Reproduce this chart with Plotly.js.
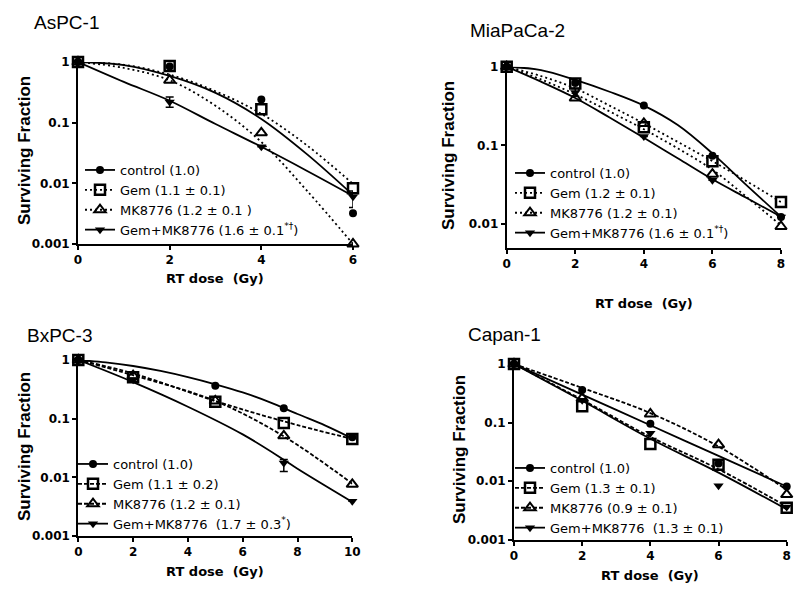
<!DOCTYPE html>
<html>
<head>
<meta charset="utf-8">
<script src="https://cdn.plot.ly/plotly-3.0.1.min.js"></script>
<style>html,body{margin:0;padding:0;background:#fff;}#chart{width:800px;height:595px;}</style>
</head>
<body>
<div id="chart"></div>
<script>
// ---------------- DATA ----------------
// Panel titles
const panelTitles = ['AsPC-1', 'MiaPaCa-2', 'BxPC-3', 'Capan-1'];

// AsPC-1
const asDose = [0, 2, 4, 6];
const asControl = [1, 0.84, 0.24, 0.0032];
const asGem = [1, 0.86, 0.166, 0.0083];
const asMK = [1, 0.50, 0.068, 0.001];
const asCombo = [1, 0.22, 0.040, 0.006];
const asComboErrPlus = [0, 0.045, 0, 0.0015];
const asComboErrMinus = [0, 0.04, 0, 0.002];
const asFitDose = [0, 1, 2, 3, 4, 5, 6];
const asFitControl = [1, 0.89, 0.59, 0.31, 0.115, 0.03, 0.0064];
const asFitGem = [1, 0.90, 0.62, 0.33, 0.14, 0.042, 0.0098];
const asFitMK = [1, 0.80, 0.50, 0.19, 0.048, 0.0075, 0.001];
const asFitCombo = [1, 0.47, 0.23, 0.095, 0.04, 0.016, 0.0062];
const asLegend = ['control (1.0)', 'Gem (1.1 \u00b1 0.1)', 'MK8776 (1.2 \u00b1 0.1 )', 'Gem+MK8776 (1.6 \u00b1 0.1<sup>*\u2020</sup>)'];

// MiaPaCa-2
const miaDose = [0, 2, 4, 6, 8];
const miaControl = [1, 0.62, 0.32, 0.074, 0.0123];
const miaGem = [1, 0.61, 0.17, 0.063, 0.019];
const miaMK = [1, 0.40, 0.19, 0.043, 0.0093];
const miaCombo = [1, 0.47, 0.13, 0.036, 0.0123];
const miaComboErrPlus = [0, 0.06, 0, 0, 0];
const miaComboErrMinus = [0, 0.05, 0, 0, 0];
const miaFitDose = [0, 1, 2, 3, 4, 5, 6, 7, 8];
const miaFitControl = [1, 0.907, 0.68, 0.48, 0.32, 0.18, 0.079, 0.031, 0.0124];
const miaFitGem = [1, 0.76, 0.53, 0.32, 0.19, 0.11, 0.063, 0.035, 0.019];
const miaFitMK = [1, 0.69, 0.445, 0.27, 0.16, 0.091, 0.049, 0.022, 0.0096];
const miaFitCombo = [1, 0.645, 0.40, 0.226, 0.125, 0.068, 0.037, 0.0214, 0.0124];
const miaLegend = ['control (1.0)', 'Gem (1.2 \u00b1 0.1)', 'MK8776 (1.2 \u00b1 0.1)', 'Gem+MK8776 (1.6 \u00b1 0.1<sup>*\u2020</sup>)'];

// BxPC-3
const bxDose = [0, 2, 5, 7.5, 10];
const bxControl = [1, 1.11, 0.365, 0.15, 0.048];
const bxGem = [1, 0.51, 0.195, 0.084, 0.045];
const bxMK = [1, 0.54, 0.20, 0.051, 0.0076];
const bxComboDose = [0, 2, 7.5, 10];
const bxCombo = [1, 0.46, 0.0176, 0.0039];
const bxComboErrPlus = [0, 0, 0.0025, 0];
const bxComboErrMinus = [0, 0, 0.005, 0];
const bxFitDose = [0, 1, 2, 3, 4, 5, 6, 7, 8, 9, 10];
const bxFitControl = [1, 0.91, 0.79, 0.65, 0.51, 0.385, 0.28, 0.19, 0.12, 0.077, 0.046];
const bxFitGemDose = [0, 2, 5, 7.5, 10];
const bxFitGem = [1, 0.59, 0.20, 0.09, 0.045];
const bxFitMK = [1, 0.55, 0.20, 0.05, 0.0078];
const bxFitComboDose = [0, 2, 4, 6, 7.5, 8, 10];
const bxFitCombo = [1, 0.42, 0.16, 0.054, 0.02, 0.014, 0.0038];
const bxLegend = ['control (1.0)', 'Gem (1.1 \u00b1 0.2)', 'MK8776 (1.2 \u00b1 0.1)', 'Gem+MK8776 \u00a0(1.7 \u00b1 0.3<sup>*</sup>)'];

// Capan-1
const capDose = [0, 2, 4, 6, 8];
const capControl = [1, 0.36, 0.095, 0.02, 0.0081];
const capGem = [1, 0.19, 0.043, 0.019, 0.0035];
const capMK = [1, 0.26, 0.14, 0.042, 0.0059];
const capCombo = [1, 0.24, 0.066, 0.0083, 0.0036];
const capFitDose = [0, 2, 4, 6, 8];
const capFitControl = [1, 0.30, 0.09, 0.027, 0.0081];
const capFitGem = [1, 0.245, 0.057, 0.016, 0.0037];
const capFitMK = [1, 0.39, 0.145, 0.039, 0.0071];
const capFitCombo = [1, 0.235, 0.053, 0.014, 0.0033];
const capLegend = ['control (1.0)', 'Gem (1.3 \u00b1 0.1)', 'MK8776 (0.9 \u00b1 0.1)', 'Gem+MK8776 \u00a0(1.3 \u00b1 0.1)'];

// ---------------- STYLE ----------------
const FONT = 'Liberation Sans, Arial, sans-serif';
const WFONT = 'DejaVu Sans, Liberation Sans, sans-serif';
const markerStyles = [
  {symbol: 'circle', size: 8, lw: 0},
  {symbol: 'square-open', size: 10, lw: 2.5},
  {symbol: 'triangle-up-open', size: 10, lw: 2},
  {symbol: 'triangle-down', size: 9, lw: 0}
];

const traces = [];
function addSeries(axSuffix, dose, vals, style, errP, errM) {
  const t = {
    x: dose, y: vals, type: 'scatter', mode: 'markers',
    xaxis: 'x' + axSuffix, yaxis: 'y' + axSuffix,
    showlegend: false, cliponaxis: false,
    marker: {symbol: style.symbol, size: style.size, color: 'black', line: {color: 'black', width: style.lw}}
  };
  if (errP) {
    t.error_y = {type: 'data', array: errP, arrayminus: errM, visible: true, color: 'black', thickness: 1.5, width: 4};
  }
  traces.push(t);
}
function addFit(axSuffix, dose, vals, dash) {
  traces.push({
    x: dose, y: vals, type: 'scatter', mode: 'lines',
    xaxis: 'x' + axSuffix, yaxis: 'y' + axSuffix,
    showlegend: false, hoverinfo: 'skip',
    line: {color: 'black', width: 1.8, dash: dash, shape: 'spline', smoothing: 1}
  });
}
function addLegendItem(axSuffix, legendId, name, style, dash) {
  traces.push({
    x: [null], y: [null], type: 'scatter', mode: 'lines+markers', name: name,
    xaxis: 'x' + axSuffix, yaxis: 'y' + axSuffix, legend: legendId, showlegend: true,
    line: {color: 'black', width: 1.8, dash: dash},
    marker: {symbol: style.symbol, size: style.size, color: 'black', line: {color: 'black', width: style.lw}}
  });
}

const DOT = '2px,3px';
const DASH = '4px,2px';

function panel(axSuffix, legendId, doses, series, fits, legendNames, lineDash, errs) {
  const dashes = ['solid', lineDash, lineDash, 'solid'];
  for (let i = 0; i < 4; i++) {
    addFit(axSuffix, fits[i][0], fits[i][1], dashes[i]);
  }
  for (let i = 0; i < 4; i++) {
    const e = errs && errs[i];
    addSeries(axSuffix, doses[i], series[i], markerStyles[i], e ? e[0] : null, e ? e[1] : null);
  }
  for (let i = 0; i < 4; i++) {
    addLegendItem(axSuffix, legendId, legendNames[i], markerStyles[i], dashes[i]);
  }
}

panel('', 'legend',
  [asDose, asDose, asDose, asDose],
  [asControl, asGem, asMK, asCombo],
  [[asFitDose, asFitControl], [asFitDose, asFitGem], [asFitDose, asFitMK], [asFitDose, asFitCombo]],
  asLegend, DOT, [null, null, null, [asComboErrPlus, asComboErrMinus]]);

panel('2', 'legend2',
  [miaDose, miaDose, miaDose, miaDose],
  [miaControl, miaGem, miaMK, miaCombo],
  [[miaFitDose, miaFitControl], [miaFitDose, miaFitGem], [miaFitDose, miaFitMK], [miaFitDose, miaFitCombo]],
  miaLegend, DOT, [null, null, null, [miaComboErrPlus, miaComboErrMinus]]);

panel('3', 'legend3',
  [bxDose, bxDose, bxDose, bxComboDose],
  [bxControl, bxGem, bxMK, bxCombo],
  [[bxFitDose, bxFitControl], [bxFitGemDose, bxFitGem], [bxFitGemDose, bxFitMK], [bxFitComboDose, bxFitCombo]],
  bxLegend, DASH, [null, null, null, [bxComboErrPlus, bxComboErrMinus]]);

panel('4', 'legend4',
  [capDose, capDose, capDose, capDose],
  [capControl, capGem, capMK, capCombo],
  [[capFitDose, capFitControl], [capFitDose, capFitGem], [capFitDose, capFitMK], [capFitDose, capFitCombo]],
  capLegend, DASH, null);

// ---------------- LAYOUT ----------------
const W = 800, H = 595;
const px = v => v / W;
const py = v => 1 - v / H;

const tickFont = {family: WFONT, size: 12, color: 'black', weight: 'bold'};
function xAxis(domain, range, tickvals, anchor) {
  return {domain: domain, range: range, tickvals: tickvals, ticktext: tickvals.map(String),
    ticks: 'outside', ticklen: 4, tickwidth: 2, tickcolor: 'black',
    showline: true, linewidth: 2, linecolor: 'black', showgrid: false, zeroline: false,
    anchor: anchor, tickfont: tickFont, fixedrange: true};
}
function yAxis(domain, range, tickvals, ticktext, anchor) {
  return {domain: domain, type: 'log', range: range, tickvals: tickvals, ticktext: ticktext,
    ticks: 'outside', ticklen: 4, tickwidth: 2, tickcolor: 'black',
    showline: true, linewidth: 2, linecolor: 'black', showgrid: false, zeroline: false,
    anchor: anchor, tickfont: tickFont, fixedrange: true};
}
function legendBox(xpx, ypx) {
  return {x: px(xpx), y: py(ypx), xanchor: 'left', yanchor: 'top', bgcolor: 'rgba(0,0,0,0)',
    borderwidth: 0, font: {family: WFONT, size: 13, color: 'black'}, tracegroupgap: 0, itemwidth: 30, traceorder: 'normal'};
}

const decTicks = [0.001, 0.01, 0.1, 1];
const decText = ['0.001', '0.01', '0.1', '1'];

const annotations = [];
const titlePos = [[32, 23], [468, 30], [25, 335], [466, 334]];
panelTitles.forEach((t, i) => {
  annotations.push({text: t, xref: 'paper', yref: 'paper', x: px(titlePos[i][0]), y: py(titlePos[i][1]),
    xanchor: 'left', yanchor: 'middle', showarrow: false, font: {family: FONT, size: 19, color: 'black'}});
});
const xTitlePos = [[215, 278], [644, 303], [215, 571], [650, 575]];
xTitlePos.forEach(p => {
  annotations.push({text: 'RT dose \u00a0(Gy)', xref: 'paper', yref: 'paper', x: px(p[0]), y: py(p[1]),
    xanchor: 'center', yanchor: 'middle', showarrow: false, font: {family: WFONT, size: 13, color: 'black', weight: 'bold'}});
});
const yTitlePos = [[24, 151], [449, 156], [24, 447], [459, 450]];
yTitlePos.forEach(p => {
  annotations.push({text: 'Surviving Fraction', xref: 'paper', yref: 'paper', x: px(p[0]), y: py(p[1]),
    xanchor: 'center', yanchor: 'middle', textangle: -90, showarrow: false, font: {family: FONT, size: 17, color: 'black', weight: 'bold'}});
});

const layout = {
  width: W, height: H, autosize: false,
  margin: {l: 0, r: 0, t: 0, b: 0, pad: 0},
  paper_bgcolor: 'white', plot_bgcolor: 'rgba(0,0,0,0)',
  showlegend: true,
  xaxis: xAxis([px(78), px(353)], [0, 6], [0, 2, 4, 6], 'y'),
  yaxis: yAxis([py(244), py(62)], [-3, 0], decTicks, decText, 'x'),
  xaxis2: xAxis([px(506.7), px(781)], [0, 8], [0, 2, 4, 6, 8], 'y2'),
  yaxis2: yAxis([py(248), py(66.7)], [-2.305, 0], [0.01, 0.1, 1], ['0.01', '0.1', '1'], 'x2'),
  xaxis3: xAxis([px(78.3), px(352.3)], [0, 10], [0, 2, 4, 6, 8, 10], 'y3'),
  yaxis3: yAxis([py(536), py(360)], [-3, 0], decTicks, decText, 'x3'),
  xaxis4: xAxis([px(514), px(786.7)], [0, 8], [0, 2, 4, 6, 8], 'y4'),
  yaxis4: yAxis([py(539.7), py(364)], [-3, 0], decTicks, decText, 'x4'),
  legend: legendBox(80, 155),
  legend2: legendBox(510, 158),
  legend3: legendBox(73, 449),
  legend4: legendBox(510, 453),
  annotations: annotations
};

Plotly.newPlot('chart', traces, layout, {staticPlot: true, displayModeBar: false});
</script>
</body>
</html>
